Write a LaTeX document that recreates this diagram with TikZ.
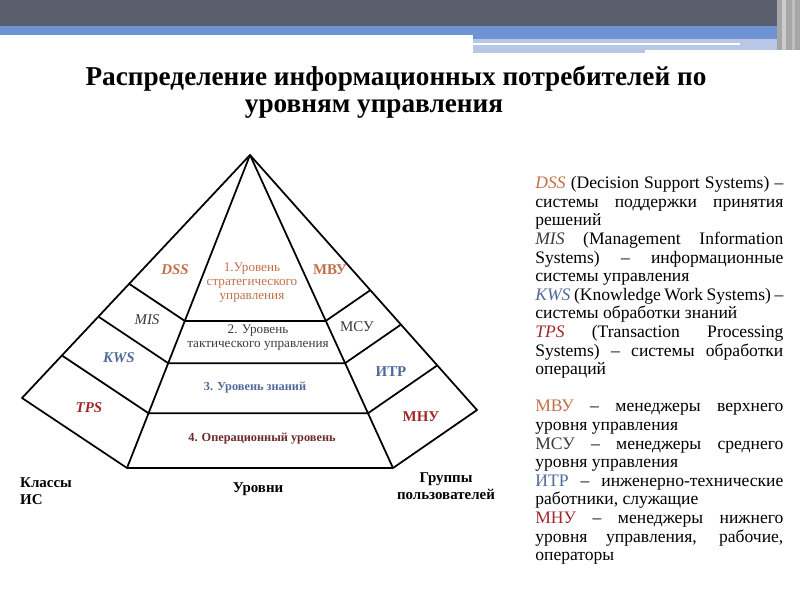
\documentclass[tikz,border=0pt]{standalone}
\usepackage{fontspec}
\setmainfont{Liberation Serif}
\usetikzlibrary{calc}

\definecolor{barGray}{HTML}{5A5F6D}
\definecolor{barBlue}{HTML}{6E92D2}
\definecolor{barLight}{HTML}{B9C7E6}
\definecolor{dssC}{HTML}{C0704A}
\definecolor{misC}{HTML}{3A3A3A}
\definecolor{kwsC}{HTML}{4F6A9A}
\definecolor{tpsC}{HTML}{A0282A}
\definecolor{opC}{HTML}{6A2A2A}

\begin{document}
\begin{tikzpicture}[x=0.02cm, y=-0.02cm,
        edge/.style = {draw, black, line width=1pt, line join=round},
        cls/.style = {font=\fontsize{8.5}{10}\selectfont\bfseries\itshape},
        grp/.style = {font=\fontsize{8.5}{10}\selectfont\bfseries},
        lvl/.style = {font=\fontsize{7.5}{8}\selectfont, align=center},
        capt/.style = {font=\fontsize{8.5}{9.5}\selectfont\bfseries, align=center},
        ttl/.style = {font=\fontsize{15.5}{18}\selectfont\bfseries}]
        \useasboundingbox (0, 0) rectangle (800, 600);

        % header bars
        \fill[barGray] (0, 0) rectangle (777, 26);
        \fill[barBlue] (0, 26) rectangle (473, 35);
        \fill[barBlue] (473, 26) rectangle (777, 39);
        \fill[barLight] (473, 39) rectangle (645, 53);
        \fill[barLight] (645, 39) rectangle (783, 50);
        \fill[white] (473, 43) rectangle (740, 45);
        \fill[gray!70] (777, 0) rectangle (800, 50);
        \fill[gray!40] (782, 0) rectangle (786, 50);
        \fill[gray!50] (792, 0) rectangle (795, 50);

        \node[ttl, anchor=base] at (396, 85) (t1) {Распределение информационных потребителей по};
        \node[ttl, anchor=base] at (374, 112) (t2) {уровням управления};

        % pyramid corners
        \coordinate (A) at (250, 155);
        \coordinate (L) at (22, 398);
        \coordinate (FL) at (127, 468);
        \coordinate (FR) at (393, 468);
        \coordinate (R) at (477, 410);

        \foreach \t/\n in {0.53/1, 0.665/2, 0.825/3} {
            \coordinate (L\n) at ($(A)!\t!(L)$);
            \coordinate (FL\n) at ($(A)!\t!(FL)$);
            \coordinate (FR\n) at ($(A)!\t!(FR)$);
            \coordinate (R\n) at ($(A)!\t!(R)$);
        }

        \draw[edge] (A) -- (L) -- (FL) -- (FR) -- (R) -- cycle;
        \draw[edge] (A) -- (FL);
        \draw[edge] (A) -- (FR);
        \foreach \n in {1, 2, 3} {
            \draw[edge] (L\n) -- (FL\n) -- (FR\n) -- (R\n);
        }

        % levels
        \node[lvl, text=dssC] at (252, 283) (v1) {1.Уровень\\стратегического\\управления};
        \node[lvl, text=misC] at (258, 338) (v2) {2. Уровень\\тактического управления};
        \node[lvl, text=kwsC, font=\fontsize{7}{8}\selectfont\bfseries] at (255, 388) (v3) {3. Уровень знаний};
        \node[lvl, text=opC, font=\fontsize{7}{8}\selectfont\bfseries] at (262, 439) (v4) {4. Операционный уровень};

        % classes of systems
        \node[cls, text=dssC] at (175, 270) (dss) {DSS};
        \node[cls, text=misC, font=\fontsize{8.5}{10}\selectfont\itshape] at (147, 320) (mis) {MIS};
        \node[cls, text=kwsC] at (119, 358) (kws) {KWS};
        \node[cls, text=tpsC] at (89, 408) (tps) {TPS};

        % user groups
        \node[grp, text=dssC] at (330, 270) (mvu) {МВУ};
        \node[grp, text=misC, font=\fontsize{8.5}{10}\selectfont] at (357, 327) (msu) {МСУ};
        \node[grp, text=kwsC] at (391, 372) (itr) {ИТР};
        \node[grp, text=tpsC] at (421, 417) (mnu) {МНУ};

        % captions
        \node[capt, align=left, anchor=west] at (14, 491) (c1) {Классы\\ИС};
        \node[capt] at (258, 489) (c2) {Уровни};
        \node[capt] at (446, 486) (c3) {Группы\\пользователей};

        % legend
        \node[anchor=north west, inner sep=0pt, text width=248*0.02cm, align=justify,
              font=\fontsize{10}{10.6}\selectfont] at (535, 176) (legend) {%
            \hyphenpenalty=10000 \exhyphenpenalty=10000 \emergencystretch=2em
            \textcolor{dssC}{\textit{DSS}} (Decision Support Systems) –\linebreak
            системы поддержки принятия\linebreak решений\par
            \textcolor{misC}{\textit{MIS}} (Management Information\linebreak
            Systems) – информационные\linebreak системы управления\par
            \textcolor{kwsC}{\textit{KWS}} (Knowledge Work Systems) –\linebreak
            системы обработки знаний\par
            \textcolor{tpsC}{\textit{TPS}} (Transaction Processing\linebreak
            Systems) – системы обработки\linebreak операций\par
            \vspace{10.5pt}
            \textcolor{dssC}{МВУ} – менеджеры верхнего\linebreak уровня управления\par
            \textcolor{misC}{МСУ} – менеджеры среднего\linebreak уровня управления\par
            \textcolor{kwsC}{ИТР} – инженерно-технические\linebreak работники, служащие\par
            \textcolor{tpsC}{МНУ} – менеджеры нижнего\linebreak уровня управления, рабочие,\linebreak операторы};
    \end{tikzpicture}
\end{document}
